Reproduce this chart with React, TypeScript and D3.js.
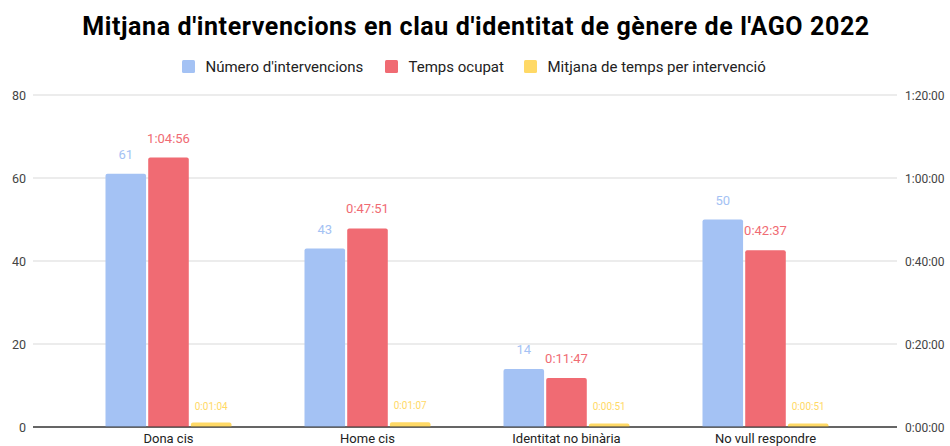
import React from 'react'
import * as d3 from 'd3'

// chart data
const categories = ['Dona cis', 'Home cis', 'Identitat no binària', 'No vull respondre']
const seriesNames = ["Número d'intervencions", 'Temps ocupat', 'Mitjana de temps per intervenció']
const interventions = [61, 43, 14, 50]
const timeUsed = ['1:04:56', '0:47:51', '0:11:47', '0:42:37']
const avgTime = ['0:01:04', '0:01:07', '0:00:51', '0:00:51']
const leftTicks = [0, 20, 40, 60, 80]
const rightTicks = ['0:00:00', '0:20:00', '0:40:00', '1:00:00', '1:20:00']

const colors = ['#a4c2f4', '#f06b73', '#ffd966']

const toSec = (s: string) => {
  const [h, m, sec] = s.split(':').map(Number)
  return h * 3600 + m * 60 + sec
}

const W = 950
const H = 446
const plotLeft = 33
const plotRight = 897
const plotTop = 95
const plotBottom = 427

const topPath = (x: number, y: number, w: number, h: number, r: number) => {
  const rr = Math.min(r, h, w / 2)
  return `M${x},${y + h}V${y + rr}Q${x},${y} ${x + rr},${y}H${x + w - rr}Q${x + w},${y} ${x + w},${y + rr}V${y + h}Z`
}

export default function App() {
  const yLeft = d3.scaleLinear().domain([0, 80]).range([plotBottom, plotTop])
  const yRight = d3.scaleLinear().domain([0, toSec('1:20:00')]).range([plotBottom, plotTop])

  // category bands (bar groups sit inside, with side margins)
  const x0 = d3.scaleBand().domain(categories).range([69, 69 + 199 * 4]).padding(0)
  const x1 = d3.scaleBand().domain(['0', '1', '2']).range([-63, 63]).paddingInner(0.05)

  const rows = categories.map((c, i) => [
    { y: yLeft(interventions[i]), label: String(interventions[i]) },
    { y: yRight(toSec(timeUsed[i])), label: timeUsed[i] },
    { y: yRight(toSec(avgTime[i])), label: avgTime[i] },
  ])

  const font = 'Roboto, Arial, sans-serif'
  const legendX = [182, 385, 524]

  return (
    <svg width={W} height={H} style={{ position: 'absolute', left: 0, top: 0, fontFamily: font }}>
      <rect width={W} height={H} fill="#fff" />
      <text x={476} y={35} textAnchor="middle" fontSize={25} fontWeight="bold" letterSpacing={0.6} fill="#000">
        Mitjana d'intervencions en clau d'identitat de gènere de l'AGO 2022
      </text>

      {seriesNames.map((s, i) => (
        <g key={s} transform={`translate(${legendX[i]},60)`}>
          <rect width={13} height={13} rx={1.5} fill={colors[i]} />
          <text x={23.5} y={11.5} fontSize={15} fill="#222">
            {s}
          </text>
        </g>
      ))}

      {leftTicks.map((t) => (
        <g key={t}>
          <line
            x1={plotLeft}
            x2={plotRight}
            y1={yLeft(t)}
            y2={yLeft(t)}
            stroke={t === 0 ? '#333' : '#d9d9d9'}
            strokeWidth={1}
          />
          <text x={26} y={yLeft(t) + 4.5} textAnchor="end" fontSize={12.5} fill="#444">
            {t}
          </text>
        </g>
      ))}
      {rightTicks.map((t) => (
        <text key={t} x={905} y={yRight(toSec(t)) + 4.5} fontSize={12} fill="#444">
          {t}
        </text>
      ))}

      {categories.map((c, i) => {
        const cx = (x0(c) as number) + x0.bandwidth() / 2
        return (
          <g key={c}>
            {rows[i].map((d, j) => {
              const bx = cx + (x1(String(j)) as number)
              const bw = x1.bandwidth()
              const h = plotBottom - d.y
              return (
                <g key={j}>
                  <path d={topPath(bx, d.y, bw, h, 2)} fill={colors[j]} />
                  <text
                    x={bx + bw / 2}
                    y={d.y - (j === 2 ? 13 : 15)}
                    textAnchor="middle"
                    fontSize={j === 2 ? 10 : 13}
                    fill={colors[j]}
                  >
                    {d.label}
                  </text>
                </g>
              )
            })}
            <text x={cx} y={443} textAnchor="middle" fontSize={13} fill="#222">
              {c}
            </text>
          </g>
        )
      })}
      <line x1={plotLeft} x2={plotRight} y1={plotBottom} y2={plotBottom} stroke="#333" />
    </svg>
  )
}
